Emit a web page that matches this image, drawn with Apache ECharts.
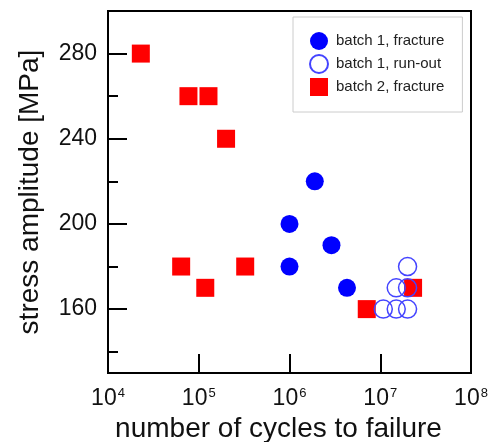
<!DOCTYPE html>
<html>
<head>
<meta charset="utf-8">
<script src="https://cdn.jsdelivr.net/npm/echarts@6/dist/echarts.min.js"></script>
<style>
  html, body { margin: 0; padding: 0; background: #fff; }
  #chart { width: 493px; height: 442px; }
</style>
</head>
<body>
<div id="chart"></div>
<script>
// ---- data ----
const batch1FractureX = [1.9e6, 1.0e6, 1.0e6, 2.9e6, 4.3e6];
const batch1FractureY = [220, 200, 180, 190, 170];

const batch1RunoutX = [2.0e7, 1.5e7, 2.0e7, 1.08e7, 1.5e7, 2.0e7];
const batch1RunoutY = [180, 170, 170, 160, 160, 160];

const batch2FractureX = [2.3e4, 7.7e4, 1.28e5, 2.0e5, 6.4e4, 1.18e5, 3.25e5, 7.1e6, 2.3e7];
const batch2FractureY = [280, 260, 260, 240, 180, 170, 180, 160, 170];

const seriesNames = ['batch 1, fracture', 'batch 1, run-out', 'batch 2, fracture'];
const yMajorTicks = [160, 200, 240, 280];
const yMinorTicks = [140, 180, 220, 260];
const xTitle = 'number of cycles to failure';
const yTitle = 'stress amplitude [MPa]';

function pairs(xs, ys) { return xs.map((x, i) => [x, ys[i]]); }

const FONT = 'Liberation Sans, Arial, sans-serif';
const chart = echarts.init(document.getElementById('chart'), null, { renderer: 'canvas' });

chart.setOption({
  animation: false,
  backgroundColor: '#fff',
  grid: {
    left: 108, right: 22, top: 11, bottom: 69,
    outerBoundsMode: 'none', containLabel: false,
    show: true, borderColor: '#000', borderWidth: 2, backgroundColor: 'transparent'
  },
  legend: {
    orient: 'vertical',
    left: 293, top: 17,
    padding: [15, 18, 16, 16],
    itemGap: 4,
    itemWidth: 18, itemHeight: 18,
    borderColor: '#cccccc', borderWidth: 1,
    backgroundColor: '#fff',
    data: seriesNames,
    textStyle: { fontFamily: FONT, fontSize: 15, color: '#222', padding: [0, 0, 0, 3] }
  },
  xAxis: {
    type: 'log', logBase: 10, min: 1e4, max: 1e8,
    name: xTitle, nameLocation: 'middle', nameGap: 40,
    nameTextStyle: { fontFamily: FONT, fontSize: 28, color: '#111', padding: [0, 22, 0, 0] },
    axisLine: { show: true, lineStyle: { color: '#000', width: 2 } },
    axisTick: { show: true, inside: true, length: 19, lineStyle: { color: '#000', width: 2 } },
    minorTick: { show: false },
    splitLine: { show: false },
    axisLabel: {
      margin: 14,
      formatter: function (v) {
        const e = Math.round(Math.log10(v));
        return '{b|10}{s|' + e + '}';
      },
      rich: {
        b: { fontFamily: FONT, fontSize: 23, color: '#111' },
        s: { fontFamily: FONT, fontSize: 13, color: '#111', verticalAlign: 'top', padding: [0, 0, 0, 1] }
      }
    }
  },
  yAxis: [
    {
      type: 'value', min: 130, max: 300,
      name: yTitle, nameLocation: 'middle', nameGap: 64,
      nameTextStyle: { fontFamily: FONT, fontSize: 28, color: '#111' },
      axisLine: { show: true, lineStyle: { color: '#000', width: 2 } },
      axisTick: { show: true, inside: true, length: 19, customValues: yMajorTicks, lineStyle: { color: '#000', width: 2 } },
      axisLabel: { customValues: yMajorTicks, margin: 11, fontFamily: FONT, fontSize: 23, color: '#111' },
      splitLine: { show: false }
    },
    {
      type: 'value', min: 130, max: 300, position: 'left', offset: 0,
      axisLine: { show: false },
      axisTick: { show: true, inside: true, length: 10, customValues: yMinorTicks, lineStyle: { color: '#000', width: 2 } },
      axisLabel: { show: false },
      splitLine: { show: false }
    }
  ],
  series: [
    {
      name: seriesNames[0], type: 'scatter', symbol: 'circle', symbolSize: 18, z: 3,
      itemStyle: { color: '#0000ff', opacity: 1 },
      data: pairs(batch1FractureX, batch1FractureY)
    },
    {
      name: seriesNames[1], type: 'scatter', symbol: 'circle', symbolSize: 18, z: 4,
      itemStyle: { color: 'rgba(255,255,255,0)', borderColor: '#4444ff', borderWidth: 1.5, opacity: 1 },
      data: pairs(batch1RunoutX, batch1RunoutY)
    },
    {
      name: seriesNames[2], type: 'scatter', symbol: 'rect', symbolSize: 18, z: 2,
      itemStyle: { color: '#ff0000', opacity: 1 },
      data: pairs(batch2FractureX, batch2FractureY)
    }
  ]
});
</script>
</body>
</html>
